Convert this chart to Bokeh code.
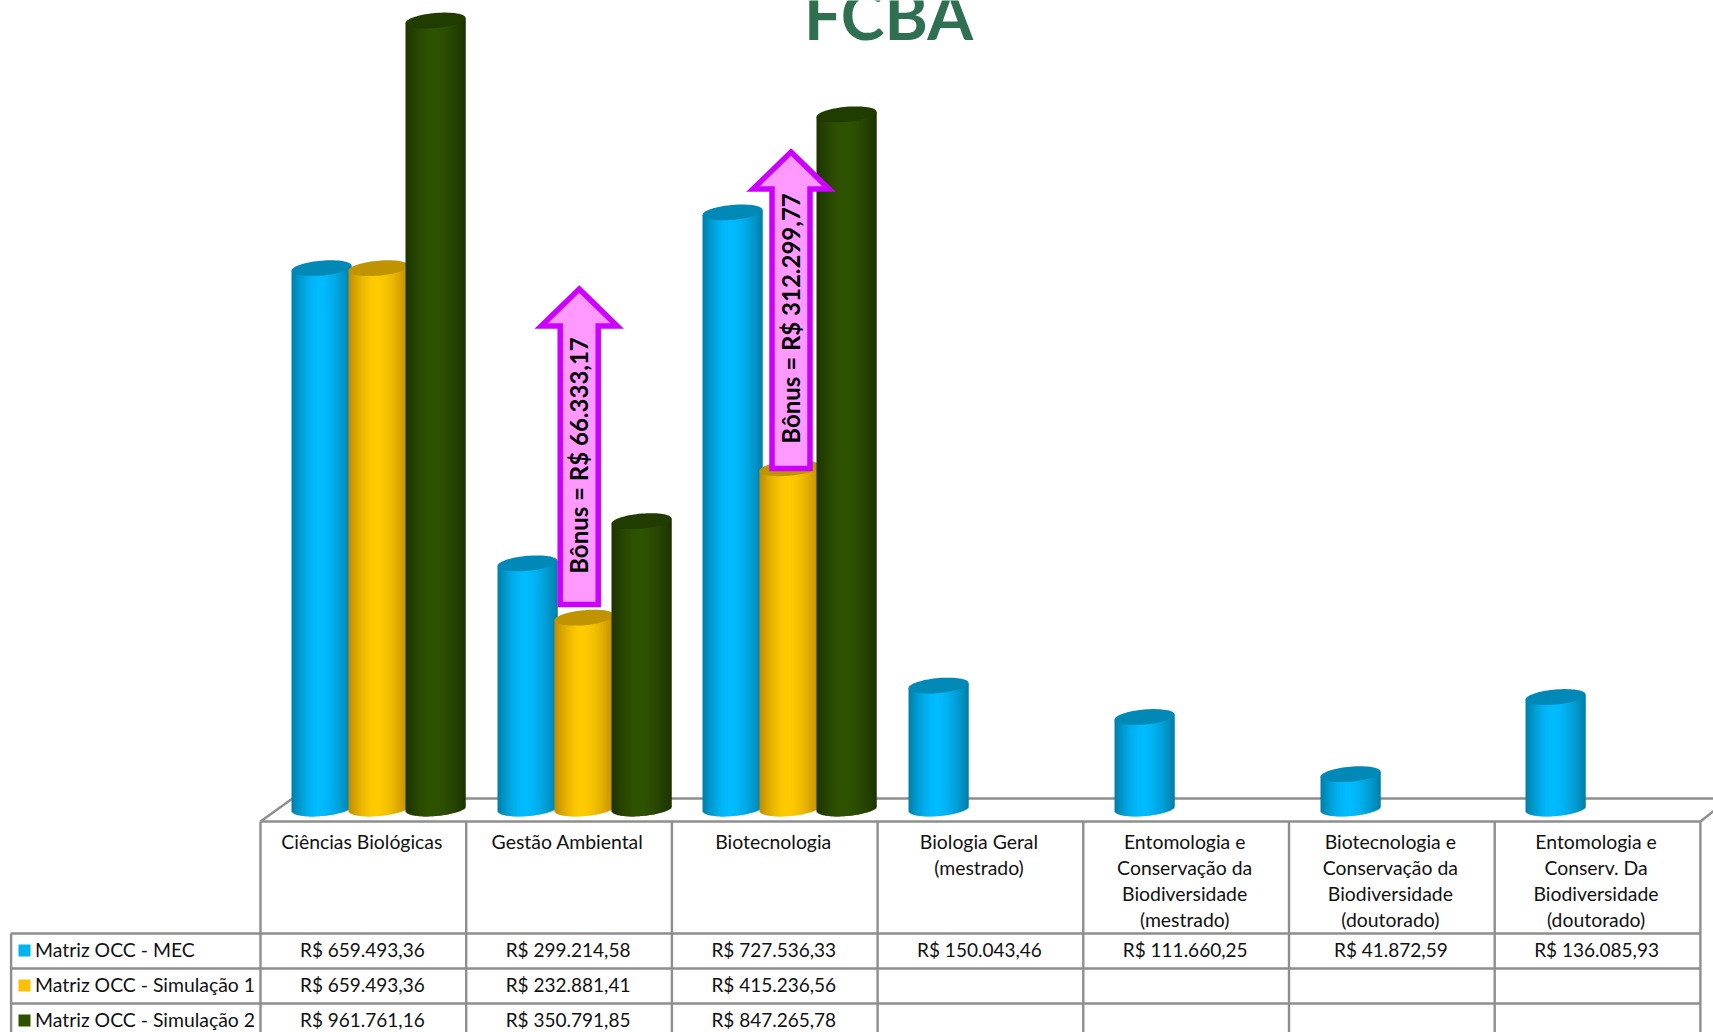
import math
from bokeh.plotting import figure
from bokeh.models import Range1d
from bokeh.core.properties import value
from bokeh.embed import file_html
from bokeh.resources import INLINE

categories = [
    ["Ciências Biológicas"],
    ["Gestão Ambiental"],
    ["Biotecnologia"],
    ["Biologia Geral", "(mestrado)"],
    ["Entomologia e", "Conservação da", "Biodiversidade", "(mestrado)"],
    ["Biotecnologia e", "Conservação da", "Biodiversidade", "(doutorado)"],
    ["Entomologia e", "Conserv. Da", "Biodiversidade", "(doutorado)"],
]
series_names = ["Matriz OCC - MEC", "Matriz OCC - Simulação 1", "Matriz OCC - Simulação 2"]
occ_mec = [659493.36, 299214.58, 727536.33, 150043.46, 111660.25, 41872.59, 136085.93]
occ_sim1 = [659493.36, 232881.41, 415236.56, None, None, None, None]
occ_sim2 = [961761.16, 350791.85, 847265.78, None, None, None, None]
bonus_labels = ["Bônus = R$ 66.333,17", "Bônus = R$ 312.299,77"]
title_text = "FCBA"


def money(v):
    if v is None:
        return ""
    s = f"{v:,.2f}".replace(",", "X").replace(".", ",").replace("X", ".")
    return "R$ " + s


FONT = value("Lato")
W, H = 1713, 1032
BASE_PX = 808.0
K = 788.0 / 961761.16  # px per R$

p = figure(width=W, height=H, output_backend="svg", toolbar_location=None,
           x_range=Range1d(0, W),
           y_range=Range1d((BASE_PX - H) / K, BASE_PX / K),
           min_border=0, min_border_left=0, min_border_right=0,
           min_border_top=0, min_border_bottom=0)
p.extra_y_ranges = {"px": Range1d(H, 0)}
p.axis.visible = False
p.xgrid.visible = False
p.ygrid.visible = False
p.outline_line_color = None
p.background_fill_color = "white"
p.border_fill_color = "white"

LINE = "#8E8E8E"
LW = 2.4
XS = [260 + i * 205.7 for i in range(8)]
ROWS = [933, 968, 1003]


def seg(xs, ys, color=LINE, w=LW):
    p.line(xs, ys, y_range_name="px", line_color=color, line_width=w)


# floor (behind the bars)
seg([260, 292], [821, 798])
seg([292, 1713], [798, 798])
seg([1700, 1715], [821, 809])

# cylinders
A, B, TILT = 30.0, 7.5, 0.085
STYLES = [
    ("#007DA6", "#00BBFF", "#0088B6"),
    ("#BE8A00", "#FFCB00", "#BF9400"),
    ("#1C3300", "#2F5300", "#213C00"),
]


def mix(c1, c2, t):
    a = [int(c1[i:i + 2], 16) for i in (1, 3, 5)]
    b = [int(c2[i:i + 2], 16) for i in (1, 3, 5)]
    return "#%02x%02x%02x" % tuple(round(a[i] + (b[i] - a[i]) * t) for i in range(3))


def cylinder(cx, v, style):
    cx = round(cx)
    edge, mid, top = style
    left, right, bottom, ytop, cols = [], [], [], [], []
    n = int(2 * A)
    for i in range(n):
        x0 = cx - A + i
        dx = i + 0.5 - A
        u = dx / A
        d = u + 0.08
        t = max(0.0, 1 - (abs(d) / (0.92 if d < 0 else 1.08)) ** 1.7)
        left.append(x0)
        right.append(x0 + 2 if i < n - 1 else x0 + 1)
        bottom.append((TILT * dx - B * math.sqrt(max(0, 1 - u * u))) / K)
        ytop.append(v + TILT * dx / K)
        cols.append(mix(edge, mid, t))
    p.quad(left=left, right=right, bottom=bottom, top=ytop, fill_color=cols, line_color=None)
    xs, ys = [], []
    for j in range(73):
        a = 2 * math.pi * j / 72
        xs.append(cx + A * math.cos(a))
        ys.append(v + (TILT * A * math.cos(a) + B * math.sin(a)) / K)
    p.patch(xs, ys, fill_color=top, line_color=None)


BAR0 = 321.0
GROUP = 205.7
OFF = 57.0
for s, vals in enumerate([occ_mec, occ_sim1, occ_sim2]):
    for i, v in enumerate(vals):
        if v is not None:
            cylinder(BAR0 + i * GROUP + s * OFF, v, STYLES[s])

# table lines
seg([260, 1700], [821, 821])
for y in ROWS:
    seg([10.6, 1700], [y, y])
seg([10.6, 10.6], [933, 1040])
for x in XS:
    seg([x, x], [821, 1040])

# category labels
TXT = "#111111"
LH = 26.0
FS = "19.4px"
for i, lines in enumerate(categories):
    cx = (XS[i] + XS[i + 1]) / 2 - 1.5
    for j, t in enumerate(lines):
        p.text([cx], [840.5 + j * LH], text=[t], y_range_name="px", text_font=FONT,
               text_font_size=FS, text_align="center", text_baseline="middle", text_color=TXT)

# values
for r, vals in enumerate([occ_mec, occ_sim1, occ_sim2]):
    for i, v in enumerate(vals):
        if v is not None:
            cx = (XS[i] + XS[i + 1]) / 2 - 1
            p.text([cx], [949 + r * 35], text=[money(v)], y_range_name="px", text_font=FONT,
                   text_font_size="19px", text_align="center", text_baseline="middle", text_color=TXT)

# legend keys
LEG = ["#00B4F0", "#FFC000", "#2E5300"]
for r, name in enumerate(series_names):
    y = 950 + r * 35
    p.quad(left=[18], right=[30], top=[y - 6], bottom=[y + 6], y_range_name="px",
           fill_color=LEG[r], line_color=None)
    p.text([34.5], [y - 1], text=[name], y_range_name="px", text_font=FONT,
           text_font_size=FS, text_align="left", text_baseline="middle", text_color=TXT)


# bonus arrows
def arrow(cx, tip, bottom, label, ty):
    hw, sw, hh = 38.0, 19.0, 37.0
    top = tip + 3.5
    xs = [cx, cx + hw, cx + sw, cx + sw, cx - sw, cx - sw, cx - hw]
    ys = [top, top + hh, top + hh, bottom, bottom, top + hh, top + hh]
    p.patch(xs, ys, y_range_name="px", fill_color="#FF99FF", line_color="#CC00FF",
            line_width=5.5, line_join="miter")
    p.text([cx - 1], [ty], text=[label], y_range_name="px", angle=math.pi / 2, text_font=FONT,
           text_font_style="bold", text_font_size="24px", text_align="center",
           text_baseline="middle", text_color="#000000")


arrow(578.7, 285, 604, bonus_labels[0], 455)
arrow(790.5, 148, 468, bonus_labels[1], 318)

# title
p.text([888], [14], text=[title_text], y_range_name="px", text_font=FONT, text_font_style="bold",
       text_font_size="66px", text_align="center", text_baseline="middle", text_color="#2E7050")

open("out.html", "w").write(file_html(p, INLINE))
